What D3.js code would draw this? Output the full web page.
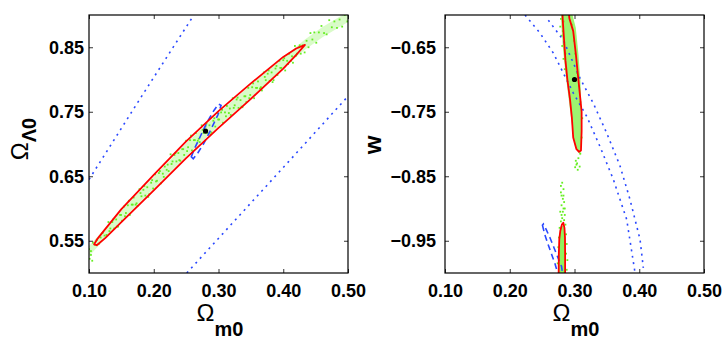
<!DOCTYPE html>
<html>
<head>
<meta charset="utf-8">
<script src="https://cdn.jsdelivr.net/npm/d3@7"></script>
<style>
  body { margin: 0; background: #fff; }
  text { font-family: "Liberation Sans", Arial, sans-serif; }
</style>
</head>
<body>
<svg id="viz" width="727" height="341"></svg>
<script>
// ---- data ----
const X_TICKS   = [0.10, 0.20, 0.30, 0.40, 0.50];
const L_Y_TICKS = [0.55, 0.65, 0.75, 0.85];
const R_Y_TICKS = [-0.95, -0.85, -0.75, -0.65];

// left panel: (Omega_m0, Omega_Lambda0)
const L_RED = [[0.108,0.5445],[0.113,0.553],[0.125,0.568],[0.150,0.599],[0.200,0.652],[0.250,0.704],[0.300,0.751],
  [0.350,0.794],[0.400,0.835],[0.420,0.848],[0.4335,0.8536],
  [0.420,0.838],[0.400,0.817],[0.350,0.770],[0.300,0.725],[0.250,0.678],[0.200,0.628],[0.150,0.579],
  [0.125,0.554],[0.112,0.543]];
const L_GREEN_BAND = [[0.100,0.542],[0.150,0.597],[0.200,0.649],[0.250,0.701],[0.300,0.748],[0.350,0.792],
  [0.400,0.834],[0.4335,0.862],[0.460,0.881],[0.500,0.905],
  [0.500,0.889],[0.460,0.865],[0.4335,0.846],[0.400,0.818],[0.350,0.772],[0.300,0.728],[0.250,0.681],
  [0.200,0.631],[0.150,0.581],[0.100,0.526]];
const L_BLUE_DASH = [[0.258,0.680],[0.263,0.693],[0.272,0.712],[0.283,0.735],[0.293,0.752],[0.300,0.762],
  [0.304,0.760],[0.299,0.745],[0.289,0.724],[0.278,0.702],[0.268,0.686],[0.261,0.677]];
const L_DOT_A = [[0.100,0.645],[0.180,0.772],[0.262,0.900]];
const L_DOT_B = [[0.251,0.500],[0.375,0.636],[0.500,0.774]];
const L_BEST = [[0.280, 0.720]];
const L_GREEN = [[0.100,0.537],[0.103,0.534],[0.106,0.547],[0.109,0.544],[0.112,0.551],[0.115,0.545],[0.118,0.555],
  [0.121,0.562],[0.124,0.558],[0.127,0.559],[0.130,0.579],[0.133,0.569],[0.136,0.579],[0.139,0.569],[0.142,0.583],
  [0.145,0.572],[0.148,0.590],[0.151,0.581],[0.154,0.603],[0.157,0.593],[0.160,0.605],[0.163,0.590],[0.166,0.606],
  [0.169,0.617],[0.172,0.606],[0.175,0.604],[0.178,0.630],[0.181,0.619],[0.184,0.629],[0.187,0.620],[0.190,0.633],
  [0.193,0.622],[0.196,0.640],[0.199,0.631],[0.202,0.653],[0.205,0.643],[0.208,0.655],[0.211,0.639],[0.214,0.654],
  [0.217,0.665],[0.220,0.660],[0.223,0.658],[0.226,0.684],[0.229,0.673],[0.232,0.683],[0.235,0.673],[0.238,0.686],
  [0.241,0.674],[0.244,0.692],[0.247,0.683],[0.250,0.705],[0.253,0.695],[0.256,0.706],[0.259,0.690],[0.262,0.706],
  [0.265,0.717],[0.268,0.705],[0.271,0.703],[0.274,0.729],[0.277,0.717],[0.280,0.727],[0.283,0.717],[0.286,0.729],
  [0.289,0.718],[0.292,0.736],[0.295,0.727],[0.298,0.748],[0.301,0.738],[0.304,0.749],[0.307,0.733],[0.310,0.749],
  [0.313,0.759],[0.316,0.748],[0.319,0.745],[0.322,0.771],[0.325,0.760],[0.328,0.769],[0.331,0.756],[0.334,0.768],
  [0.337,0.757],[0.340,0.774],[0.343,0.765],[0.346,0.787],[0.349,0.776],[0.352,0.788],[0.355,0.771],[0.358,0.787],
  [0.361,0.797],[0.364,0.786],[0.367,0.783],[0.370,0.811],[0.373,0.799],[0.376,0.809],[0.379,0.798],[0.382,0.811],
  [0.385,0.799],[0.388,0.817],[0.391,0.807],[0.394,0.829],[0.397,0.818],[0.400,0.830],[0.403,0.814],[0.406,0.829],
  [0.409,0.840],[0.412,0.829],[0.415,0.826],[0.418,0.852],[0.421,0.840],[0.424,0.850],[0.427,0.840],[0.430,0.853],
  [0.433,0.842],[0.436,0.860],[0.439,0.850],[0.442,0.872],[0.445,0.862],[0.448,0.873],[0.451,0.857],[0.455,0.873],
  [0.459,0.883],[0.463,0.872],[0.467,0.870],[0.471,0.892],[0.475,0.881],[0.479,0.890],[0.483,0.880],[0.487,0.893],
  [0.491,0.882],[0.495,0.900],[0.499,0.890],
  [0.1315,0.565],[0.1375,0.583],[0.1435,0.572],[0.1495,0.590],[0.1555,0.588],[0.1615,0.612],[0.1675,0.606],
  [0.1735,0.608],[0.1795,0.624],[0.1855,0.635],[0.1915,0.618],[0.1975,0.644],[0.2035,0.642],[0.2095,0.658],
  [0.2155,0.649],[0.2215,0.668],[0.2275,0.669],[0.2335,0.686],[0.2395,0.675],[0.2455,0.692],[0.2515,0.689],
  [0.2575,0.713],[0.2635,0.706],[0.2695,0.708],[0.2755,0.722],[0.2815,0.732],[0.2875,0.715],[0.2935,0.740],
  [0.2995,0.738],[0.3055,0.753],[0.3115,0.743],[0.3175,0.755],[0.3235,0.756],[0.3295,0.772],[0.3355,0.758],
  [0.3415,0.774],[0.3475,0.771],[0.3535,0.794],[0.3595,0.787],[0.3655,0.788],[0.3715,0.804],[0.3775,0.814],
  [0.3835,0.796],[0.3895,0.821],[0.3955,0.818],[0.4015,0.833],[0.4075,0.824],[0.4135,0.836],[0.4195,0.837],
  [0.4255,0.853],[0.101,0.522],[0.103,0.528],[0.105,0.519]];

// right panel: (Omega_m0, w)
const R_RED_UP = [[0.281,-0.590],[0.291,-0.590],[0.292,-0.605],[0.298,-0.625],[0.302,-0.660],[0.305,-0.690],
  [0.308,-0.720],[0.311,-0.750],[0.311,-0.780],[0.310,-0.810],[0.307,-0.812],[0.303,-0.808],[0.298,-0.790],
  [0.296,-0.760],[0.293,-0.730],[0.289,-0.700],[0.286,-0.670],[0.284,-0.640],[0.282,-0.610]];
const R_RED_LOW = [[0.2755,-1.010],[0.2758,-0.970],[0.2765,-0.948],[0.2780,-0.935],[0.2805,-0.925],[0.2827,-0.922],
  [0.2845,-0.930],[0.2853,-0.945],[0.2855,-0.970],[0.2855,-1.010]];
const R_GREEN_UP = [[0.279,-0.600],[0.297,-0.600],[0.302,-0.620],[0.306,-0.660],[0.309,-0.700],[0.311,-0.750],
  [0.311,-0.790],[0.309,-0.818],[0.301,-0.805],[0.296,-0.770],[0.291,-0.730],[0.286,-0.690],[0.282,-0.650],[0.280,-0.620]];
const R_GREEN_LOW = [[0.2785,-0.928],[0.2830,-0.926],[0.2860,-0.945],[0.2870,-1.010],[0.2745,-1.010],[0.2762,-0.955]];
const R_GREEN_PTS = [[0.283,-0.610],[0.282,-0.625],[0.284,-0.645],[0.286,-0.660],[0.296,-0.615],[0.299,-0.640],
  [0.301,-0.660],[0.304,-0.690],[0.307,-0.710],[0.309,-0.735],[0.312,-0.760],[0.311,-0.790],[0.309,-0.815],
  [0.306,-0.822],[0.304,-0.830],[0.308,-0.835],[0.305,-0.840],[0.302,-0.826],[0.303,-0.832],[0.301,-0.836],
  [0.279,-0.606],[0.278,-0.618],[0.280,-0.632],[0.281,-0.648],[0.283,-0.668],[0.285,-0.684],
  [0.281,-0.860],[0.283,-0.870],[0.279,-0.875],[0.282,-0.885],[0.284,-0.890],[0.280,-0.895],[0.283,-0.900],
  [0.278,-0.905],[0.285,-0.910],[0.281,-0.915],[0.279,-0.920],[0.286,-0.925],[0.277,-0.930],[0.287,-0.940],
  [0.276,-0.945],[0.288,-0.955],[0.275,-0.960],[0.287,-0.970],[0.289,-0.980],[0.274,-0.985],[0.288,-0.995],
  [0.280,-0.880],[0.282,-0.905],[0.284,-0.918],[0.280,-0.910],[0.283,-0.880],[0.279,-0.865],[0.285,-0.900]];
const R_BLUE_DASH = [[0.2505,-0.926],[0.254,-0.940],[0.259,-0.955],[0.265,-0.972],[0.270,-0.986],[0.274,-1.000],
  [0.276,-1.010],[0.283,-1.010],[0.280,-0.990],[0.274,-0.975],[0.268,-0.960],[0.262,-0.945],[0.256,-0.932],[0.252,-0.924]];
const R_DOT_A = [[0.2236,-0.600],[0.2467,-0.628],[0.2673,-0.659],[0.2827,-0.690],[0.2982,-0.721],[0.3188,-0.757],
  [0.3394,-0.804],[0.3600,-0.855],[0.3806,-0.917],[0.3934,-0.999]];
const R_DOT_B = [[0.2596,-0.608],[0.2827,-0.639],[0.3085,-0.698],[0.3291,-0.737],[0.3497,-0.783],[0.3703,-0.834],
  [0.3857,-0.886],[0.4012,-0.948],[0.4063,-0.992]];
const R_BEST = [[0.300, -0.700]];

// ---- layout ----
const svg = d3.select("#viz");
const PW = 259, PH = 258;
const GREEN = "#66ee22", RED = "#ff0000", BLUE = "#2a48ff";

function makePanel(left, top, yDom, yTicks, pad, id) {
  const g = svg.append("g").attr("transform", `translate(${left},${top})`);
  const x = d3.scaleLinear().domain([0.1, 0.5]).range([0, PW]);
  const y = d3.scaleLinear().domain(yDom).range([PH, 0]);
  g.append("clipPath").attr("id", id).append("rect").attr("width", PW).attr("height", PH);
  const plot = g.append("g").attr("clip-path", `url(#${id})`);
  const fmt = d3.format(".2f");

  const axes = [
    [d3.axisBottom(x).tickValues(X_TICKS).tickFormat(fmt).tickPadding(11), `translate(0,${PH})`],
    [d3.axisTop(x).tickValues(X_TICKS).tickFormat(""), null],
    [d3.axisLeft(y).tickValues(yTicks).tickFormat(fmt).tickPadding(pad), null],
    [d3.axisRight(y).tickValues(yTicks).tickFormat(""), `translate(${PW},0)`]
  ];
  const overlay = () => {
    axes.forEach(([ax, tr]) => {
      const a = g.append("g").call(ax.tickSizeInner(-4).tickSizeOuter(0));
      if (tr) a.attr("transform", tr);
      a.select(".domain").remove();
      a.selectAll("text").attr("font-size", 18).attr("font-weight", "bold")
        .attr("font-family", "Liberation Sans, Arial, sans-serif").attr("fill", "#000");
      a.selectAll("line").attr("stroke", "#333");
    });
    g.append("rect").attr("width", PW).attr("height", PH)
      .attr("fill", "none").attr("stroke", "#000").attr("stroke-width", 1.2);
  };
  return {g, x, y, plot, overlay};
}

function path(p, pts, closed, style) {
  const line = d3.line().x(d => p.x(d[0])).y(d => p.y(d[1]))
    .curve(closed ? d3.curveLinearClosed : d3.curveLinear);
  const el = p.plot.append("path").attr("d", line(pts)).attr("fill", "none");
  Object.entries(style).forEach(([k, v]) => el.attr(k, v));
  return el;
}
function dots(p, pts, size) {
  p.plot.selectAll(null).data(pts).join("rect")
    .attr("x", d => p.x(d[0]) - size / 2).attr("y", d => p.y(d[1]) - size / 2)
    .attr("width", size).attr("height", size).attr("fill", GREEN);
}
function best(p, pts) {
  p.plot.selectAll(null).data(pts).join("circle")
    .attr("cx", d => p.x(d[0])).attr("cy", d => p.y(d[1])).attr("r", 2.6).attr("fill", "#000");
}
const dotted = {stroke: BLUE, "stroke-width": 1.6, "stroke-dasharray": "2,4.5"};
const dashed = {stroke: BLUE, "stroke-width": 1.6, "stroke-dasharray": "6,4"};
const redLine = {stroke: RED, "stroke-width": 1.8, "stroke-linejoin": "round"};

// left panel
const L = makePanel(89, 15, [0.5, 0.9], L_Y_TICKS, 5, "clipL");
path(L, L_GREEN_BAND, true, {fill: GREEN, "fill-opacity": 0.25, stroke: "none"});
dots(L, L_GREEN, 1.8);
path(L, L_DOT_A, false, dotted);
path(L, L_DOT_B, false, dotted);
path(L, L_BLUE_DASH, true, dashed);
path(L, L_RED, true, redLine);
best(L, L_BEST);
L.overlay();

// right panel
const R = makePanel(445, 15, [-1.0, -0.6], R_Y_TICKS, 9, "clipR");
path(R, R_GREEN_UP, true, {fill: "#7cf040", "fill-opacity": 0.75, stroke: "none"});
path(R, R_GREEN_LOW, true, {fill: "#7cf040", "fill-opacity": 0.85, stroke: "none"});
dots(R, R_GREEN_PTS, 1.8);
path(R, R_DOT_A, false, dotted);
path(R, R_DOT_B, false, dotted);
path(R, R_BLUE_DASH, true, dashed);
path(R, R_RED_UP, true, redLine);
path(R, R_RED_LOW, true, redLine);
best(R, R_BEST);
R.overlay();

// axis titles
const yl = svg.append("text").attr("transform", "translate(28,139) rotate(-90)").attr("text-anchor", "middle");
yl.append("tspan").attr("font-size", 24).text("Ω");
yl.append("tspan").attr("font-size", 20).attr("font-weight", "bold").attr("dy", 8).text("Λ0");

[220, 576].forEach(cx => {
  const t = svg.append("text").attr("x", cx).attr("y", 321).attr("text-anchor", "middle");
  t.append("tspan").attr("font-size", 24).text("Ω");
  t.append("tspan").attr("font-size", 20).attr("font-weight", "bold").attr("dy", 15).text("m0");
});

svg.append("text").attr("transform", "translate(381,145) rotate(-90)").attr("text-anchor", "middle")
  .attr("font-size", 24).attr("font-weight", "bold").text("w");
</script>
</body>
</html>
